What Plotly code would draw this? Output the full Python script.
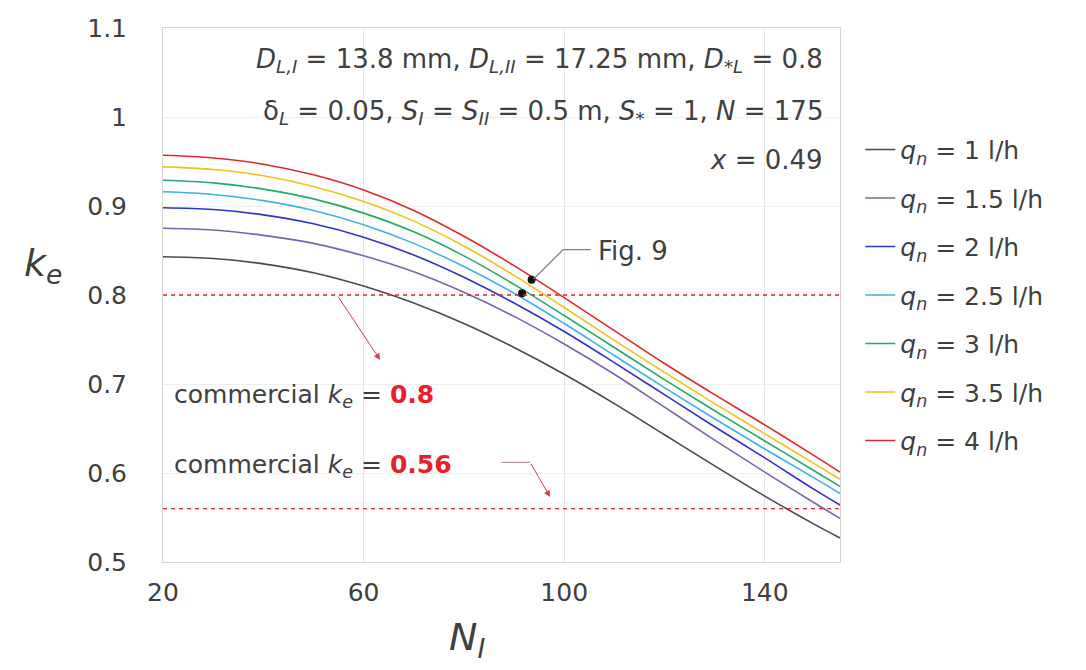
import plotly.graph_objects as go

# ---------------- data ----------------
N_I = [20, 30, 40, 50, 60, 70, 80, 90, 100, 110, 120, 130, 140, 150, 155]

ke_q1   = [0.843, 0.841, 0.835, 0.825, 0.810, 0.791, 0.768, 0.741, 0.711, 0.678, 0.643, 0.608, 0.574, 0.542, 0.527]
ke_q1_5 = [0.875, 0.873, 0.867, 0.858, 0.844, 0.826, 0.803, 0.776, 0.745, 0.711, 0.674, 0.637, 0.601, 0.566, 0.549]
ke_q2   = [0.898, 0.896, 0.890, 0.880, 0.865, 0.845, 0.820, 0.791, 0.759, 0.724, 0.688, 0.652, 0.617, 0.581, 0.564]
ke_q2_5 = [0.916, 0.913, 0.906, 0.895, 0.879, 0.858, 0.832, 0.802, 0.768, 0.732, 0.696, 0.661, 0.627, 0.594, 0.577]
ke_q3   = [0.929, 0.926, 0.919, 0.908, 0.892, 0.871, 0.844, 0.812, 0.777, 0.741, 0.705, 0.670, 0.636, 0.602, 0.585]
ke_q3_5 = [0.944, 0.941, 0.934, 0.922, 0.905, 0.883, 0.855, 0.822, 0.786, 0.749, 0.713, 0.678, 0.644, 0.610, 0.593]
ke_q4   = [0.957, 0.954, 0.947, 0.935, 0.918, 0.895, 0.866, 0.833, 0.797, 0.760, 0.723, 0.688, 0.654, 0.619, 0.601]

series = [
    ("1", ke_q1, "#4a4a4a"),
    ("1.5", ke_q1_5, "#7c62b0"),
    ("2", ke_q2, "#3232c8"),
    ("2.5", ke_q2_5, "#3fb0ee"),
    ("3", ke_q3, "#22aa66"),
    ("3.5", ke_q3_5, "#f2c21a"),
    ("4", ke_q4, "#e0282e"),
]

commercial_ke = [0.8, 0.56]
fig9_N = [91.6, 93.5]
fig9_ke = [0.802, 0.817]

x_ticks = [20, 60, 100, 140]
y_ticks = [0.5, 0.6, 0.7, 0.8, 0.9, 1.0, 1.1]
y_tick_text = ["0.5", "0.6", "0.7", "0.8", "0.9", "1", "1.1"]

FONT = "DejaVu Sans"
TXT = "#404040"
RED = "#e8202a"

fig = go.Figure()

for i, (q, vals, col) in enumerate(series):
    fig.add_trace(go.Scatter(
        x=N_I, y=vals, mode="lines", line=dict(color=col, width=1.6, shape="spline", smoothing=1.0),
        name=f"<i>q</i><sub><i>n</i></sub> = {q} l/h", legendgroup=f"g{i}",
    ))

for v in commercial_ke:
    fig.add_shape(type="line", xref="paper", x0=0, x1=1, yref="y", y0=v, y1=v,
                  line=dict(color=RED, width=1.4, dash="4px,4px"))

fig.add_trace(go.Scatter(x=fig9_N, y=fig9_ke, mode="markers",
                         marker=dict(color="#111111", size=8), showlegend=False, hoverinfo="skip"))

anns = []
# axis titles
anns.append(dict(xref="paper", yref="paper", x=-0.177, y=0.556, xanchor="center", yanchor="middle",
                 text="<i>k</i><sub><i>e</i></sub>",
                 showarrow=False, font=dict(size=38, color=TXT, family=FONT)))
anns.append(dict(xref="paper", yref="paper", x=0.449, y=-0.146, xanchor="center", yanchor="middle",
                 text="<i>N</i><sub><i>I</i></sub>",
                 showarrow=False, font=dict(size=38, color=TXT, family=FONT)))
# parameter text block
lines = [
    "<i>D</i><sub><i>L,I</i></sub> = 13.8 mm, <i>D</i><sub><i>L,II</i></sub> = 17.25 mm, <i>D</i><sub>*<i>L</i></sub> = 0.8",
    "δ<sub><i>L</i></sub> = 0.05, <i>S</i><sub><i>I</i></sub> = <i>S</i><sub><i>II</i></sub> = 0.5 m, <i>S</i><sub>*</sub> = 1, <i>N</i> = 175",
    "<i>x</i> = 0.49",
]
for txt, yp in zip(lines, [0.940, 0.841, 0.753]):
    anns.append(dict(xref="paper", yref="paper", x=0.978, y=yp, xanchor="right", yanchor="middle",
                     text=txt, showarrow=False, font=dict(size=26, color=TXT, family=FONT)))
# commercial labels
anns.append(dict(xref="paper", yref="paper", x=0.014, y=0.311, xanchor="left", yanchor="middle",
                 text=f"commercial <i>k</i><sub><i>e</i></sub> = <b><span style='color:{RED}'>{commercial_ke[0]}</span></b>",
                 showarrow=False, font=dict(size=25, color=TXT, family=FONT)))
anns.append(dict(xref="paper", yref="paper", x=0.014, y=0.180, xanchor="left", yanchor="middle",
                 text=f"commercial <i>k</i><sub><i>e</i></sub> = <b><span style='color:{RED}'>{commercial_ke[1]}</span></b>",
                 showarrow=False, font=dict(size=25, color=TXT, family=FONT)))
# arrows
anns.append(dict(x=63.3, y=0.727, ax=54.7, ay=0.8, xref="x", yref="y", axref="x", ayref="y",
                 text="", showarrow=True, arrowhead=2, arrowsize=1.3, arrowwidth=1, arrowcolor="#d04050"))
anns.append(dict(x=97.2, y=0.573, ax=93.2, ay=0.612, xref="x", yref="y", axref="x", ayref="y",
                 text="", showarrow=True, arrowhead=2, arrowsize=1.3, arrowwidth=1, arrowcolor="#d04050"))
fig.add_shape(type="line", xref="x", yref="y", x0=87.5, x1=93.2, y0=0.612, y1=0.612,
              line=dict(color="#a08080", width=1))
# Fig. 9 label with leader
anns.append(dict(xref="x", yref="y", x=106.3, y=0.850, xanchor="left", yanchor="middle", text="Fig. 9",
                 showarrow=False, font=dict(size=26, color=TXT, family=FONT)))
fig.add_shape(type="path", xref="x", yref="y",
              path="M 105.3 0.851 L 99.8 0.851 L 93.9 0.818",
              line=dict(color="#808080", width=1.2))

fig.update_layout(
    width=1086, height=670,
    margin=dict(l=163, r=246, t=28, b=108),
    paper_bgcolor="white", plot_bgcolor="white",
    font=dict(family=FONT, color=TXT, size=24),
    annotations=anns,
    showlegend=True,
    legend=dict(x=1.03, xanchor="left", y=0.815, yanchor="top", traceorder="grouped",
                tracegroupgap=13, font=dict(size=25, color=TXT, family=FONT),
                bgcolor="rgba(0,0,0,0)", itemwidth=30),
    xaxis=dict(range=[20, 155], tickvals=x_ticks, showgrid=True, gridcolor="#e6e6e6",
               showline=True, linecolor="#d6d6d6", mirror=True, zeroline=False,
               ticks="", ticklabelstandoff=8, tickfont=dict(size=25, color=TXT, family=FONT)),
    yaxis=dict(range=[0.5, 1.1], tickvals=y_ticks, ticktext=y_tick_text, showgrid=True, gridcolor="#efefef",
               showline=True, linecolor="#d6d6d6", mirror=True, zeroline=False,
               ticks="", ticklabelstandoff=30, tickfont=dict(size=25, color=TXT, family=FONT)),
)

fig.write_html("out.html")
